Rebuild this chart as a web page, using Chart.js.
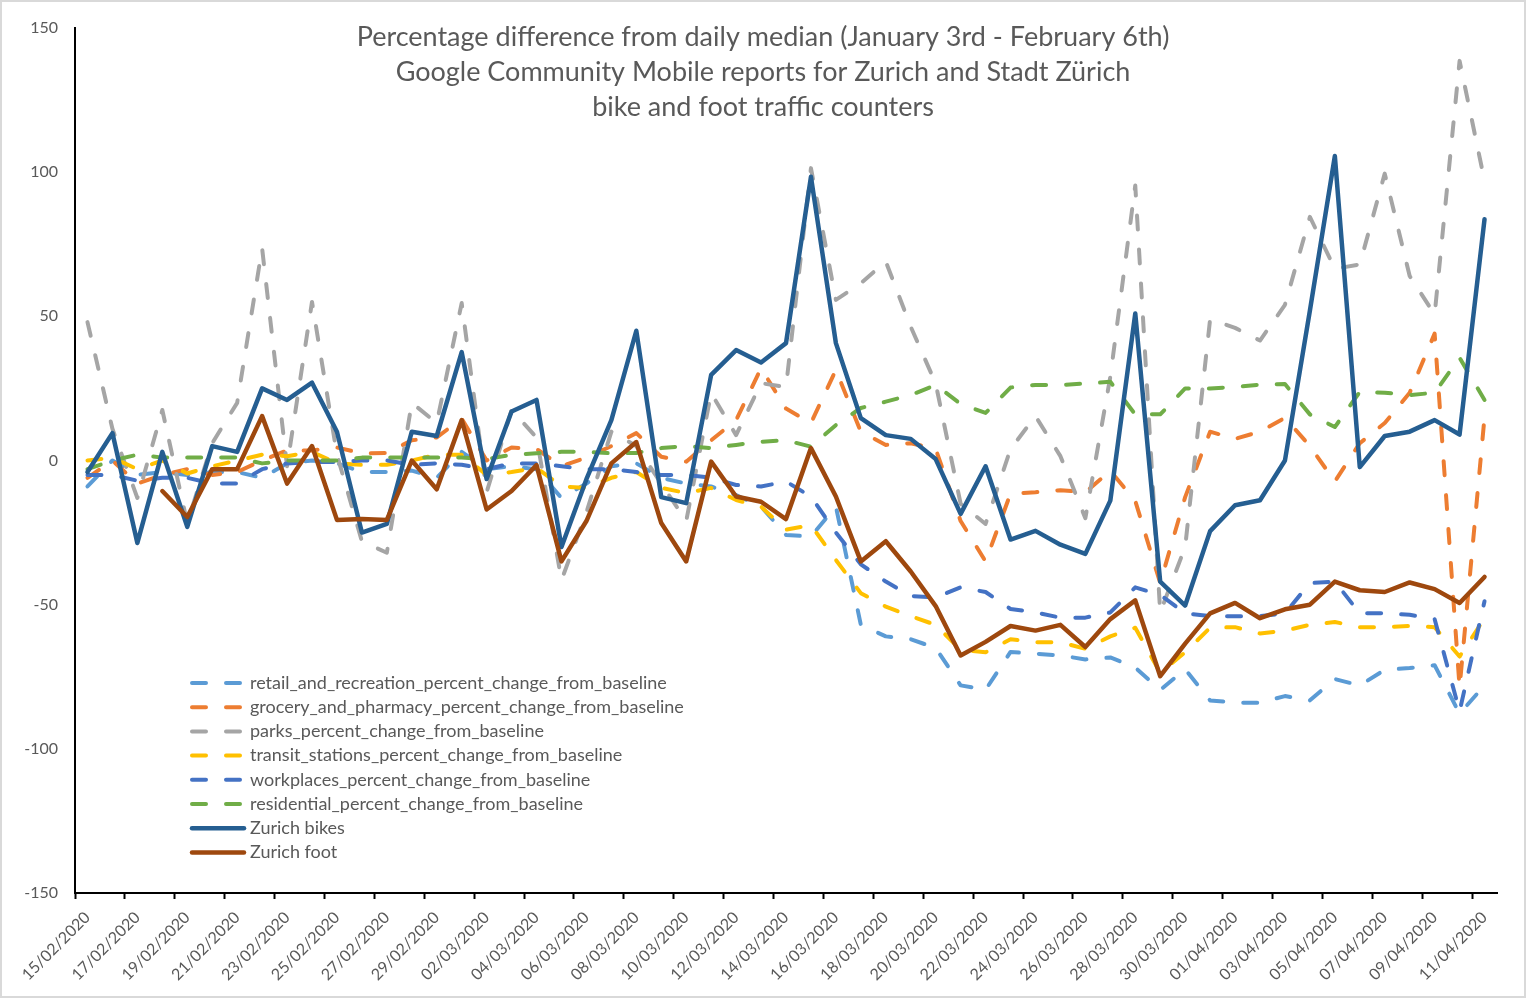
<!DOCTYPE html>
<html lang="en">
<head>
<meta charset="UTF-8">
<title>Percentage difference from daily median</title>
<script src="https://cdn.jsdelivr.net/npm/chart.js"></script>
<style>
  html, body { margin: 0; padding: 0; background: #fff; }
  #wrap { width: 1526px; height: 998px; }
</style>
</head>
<body>
<div id="wrap"><canvas id="chart" width="1526" height="998"></canvas></div>
<script>
// categories (one per day)
const dates = [
  '15/02/2020', '16/02/2020', '17/02/2020', '18/02/2020', '19/02/2020', '20/02/2020', '21/02/2020',
  '22/02/2020', '23/02/2020', '24/02/2020', '25/02/2020', '26/02/2020', '27/02/2020', '28/02/2020', '29/02/2020',
  '01/03/2020', '02/03/2020', '03/03/2020', '04/03/2020', '05/03/2020', '06/03/2020', '07/03/2020', '08/03/2020',
  '09/03/2020', '10/03/2020', '11/03/2020', '12/03/2020', '13/03/2020', '14/03/2020', '15/03/2020', '16/03/2020',
  '17/03/2020', '18/03/2020', '19/03/2020', '20/03/2020', '21/03/2020', '22/03/2020', '23/03/2020', '24/03/2020',
  '25/03/2020', '26/03/2020', '27/03/2020', '28/03/2020', '29/03/2020', '30/03/2020', '31/03/2020',
  '01/04/2020', '02/04/2020', '03/04/2020', '04/04/2020', '05/04/2020', '06/04/2020', '07/04/2020', '08/04/2020',
  '09/04/2020', '10/04/2020', '11/04/2020'
];

// series values
const retail = [-9, 0, -5, -4, -5, -4, -4, -6, -1, 0, -1, -4, -4, -3.5, -6, 3, -3, -2, -3, -13,
  -8, -2, -1, -6, -8, -9, -12, -16, -25.8, -26.4, -16, -57, -61, -62, -65, -78, -79.5, -66.4, -67, -67.6,
  -69, -68.3, -71.8, -79.6, -72.4, -83.2, -84, -84, -81.7, -83.2, -75.8, -78, -72.6, -72, -71, -87.8, -78];
const grocery = [-6, 0, -8, -5, -3, -5, -4, 0, 3.5, 3.5, 4.5, 2.5, 2.6, 7, 8, 14.5, 0, 4.5, 4, -2,
  1, 5, 9.5, 1.3, -0.4, 7, 14, 32, 18, 13, 31.4, 10, 5.4, 6, 4, -21, -35, -11.5, -11, -10.3,
  -11, -3.6, -14, -42.5, -12.7, 10, 7.5, 10, 14.8, 5, -7.3, 6, 13, 23.5, 44, -78.7, 15];
const parks = [48, 11, -13, 17.5, -21.7, 6, 20, 73.6, -2, 55, 2, -28, -32, 20, 13, 54.6, -11, 17.5, 8, -41.5,
  -18, 10, 5, -8, -21, 23.4, 8.8, 26.8, 25.5, 101.4, 55.7, 61.5, 69, 46.4, 26.7, -15, -22, 4, 15.4, 1.5,
  -20, 29, 95.4, -52.7, -30, 49, 46, 41.6, 54, 84.5, 66.5, 68, 99.5, 64, 50.6, 138.6, 97];
const transit = [0, 1, -3, 0, -4.5, -2, 0, 2, 1.5, 3, -1, -1.5, -1.5, 0, 2, 2, -5, -4, -2.5, -9,
  -9.5, -6, -4, -9.5, -11.3, -9.5, -13.7, -16, -24, -22.4, -34.5, -46, -50.7, -54, -57, -65.7, -66.5, -62, -63, -63,
  -65.3, -61, -58, -73.6, -66.5, -58, -57.8, -60, -59, -57, -56, -57.8, -57.8, -57.4, -57.8, -68, -54.7];
const workplaces = [-5, -5, -7, -6, -6, -8, -8, -3, -1, -0.5, -0.5, 0, 0, -1.5, -1, -1.5, -3, -1, -1, -2,
  -3, -3, -4, -5, -5, -6, -8.5, -9, -7.3, -12.5, -25, -36, -42, -47, -47.5, -44, -45.6, -51.5, -52.7, -54.5,
  -54.5, -52.7, -44, -46.6, -53, -54, -54, -54, -53, -42.5, -42, -53, -53, -53.5, -55, -87, -48.8];
const residential = [-3, 0, 2, 1, 1, 1, 1, -1, 0, 0, 0, 1, 1, 1, 1, 1, 0.5, 2, 2.5, 3,
  3, 2.5, 2.6, 4.3, 5, 4.3, 5.4, 6.5, 7, 4.8, 12.3, 18.2, 20.4, 22.7, 26.2, 19.6, 16.5, 25.3, 26.2, 26.2,
  26.7, 27.3, 16, 16, 25, 25, 25.5, 26.3, 26.5, 16, 11.6, 23.8, 23.5, 22.7, 23.5, 35.6, 21];
const bikes = [-4, 9.5, -28.6, 3, -23, 5, 3, 25, 21, 27, 10, -25, -22, 10, 8.5, 37.6, -6.4, 17, 21, -30,
  -6.5, 14, 45, -12.7, -14.8, 29.7, 38.3, 34, 40.7, 98.4, 40.7, 14.7, 8.8, 7.5, 0.5, -18.5, -2, -27.4, -24.4, -29.2,
  -32.4, -13.9, 51, -42, -50.3, -24.5, -15.5, -13.8, 0, 52, 105.6, -2.3, 8.5, 10, 14, 9, 83.7];
const foot = [null, null, null, -10.6, -19.6, -3, -3, 15.4, -8, 5, -20.6, -20.3, -20.6, 0, -10, 14, -17, -10.6, -1.6, -35,
  -21, -1, 6.4, -21.7, -35, -0.4, -12.5, -14.3, -20.3, 4.3, -12.5, -35, -28, -38.5, -50.5, -67.6, -62.9, -57.4, -59, -57,
  -64.7, -55, -48.5, -74.8, -63.5, -53, -49.4, -54.7, -51.6, -50, -42, -45, -45.6, -42.3, -44.6, -49.4, -40.4];

const seriesNames = [
  'retail_and_recreation_percent_change_from_baseline',
  'grocery_and_pharmacy_percent_change_from_baseline',
  'parks_percent_change_from_baseline',
  'transit_stations_percent_change_from_baseline',
  'workplaces_percent_change_from_baseline',
  'residential_percent_change_from_baseline',
  'Zurich bikes',
  'Zurich foot'
];
const seriesData = [retail, grocery, parks, transit, workplaces, residential, bikes, foot];
const seriesColors = ['#5B9BD5', '#ED7D31', '#A5A5A5', '#FFC000', '#4472C4', '#70AD47', '#255E91', '#9E480E'];

const titleLines = [
  'Percentage difference from daily median (January 3rd - February 6th)',
  'Google Community Mobile reports for Zurich and Stadt Zürich',
  'bike and foot traffic counters'
];

const FONT = 'Lato, "Open Sans", sans-serif';
const TEXT = '#595959';

// title, legend and chart frame are drawn on top, Excel style
const frameAndText = {
  id: 'frameAndText',
  afterDraw(chart) {
    const ctx = chart.ctx;
    ctx.save();
    ctx.strokeStyle = '#d9d9d9';
    ctx.lineWidth = 2;
    ctx.strokeRect(1, 1, chart.width - 2, chart.height - 2);

    ctx.fillStyle = TEXT;
    ctx.font = '27px ' + FONT;
    ctx.textAlign = 'center';
    ctx.textBaseline = 'middle';
    titleLines.forEach((t, i) => ctx.fillText(t, 763, 37 + i * 35));

    ctx.font = '18px ' + FONT;
    ctx.textAlign = 'left';
    chart.data.datasets.forEach((ds, i) => {
      const y = 683 + i * 24.2;
      ctx.beginPath();
      ctx.strokeStyle = ds.borderColor;
      ctx.lineWidth = ds.borderWidth;
      ctx.lineCap = 'round';
      ctx.setLineDash(ds.borderDash);
      ctx.moveTo(192, y);
      ctx.lineTo(244, y);
      ctx.stroke();
      ctx.setLineDash([]);
      ctx.fillStyle = TEXT;
      ctx.fillText(ds.label, 250, y);
    });
    ctx.restore();
  }
};

new Chart(document.getElementById('chart'), {
  type: 'line',
  data: {
    labels: dates,
    datasets: seriesNames.map((name, i) => ({
      label: name,
      data: seriesData[i],
      borderColor: seriesColors[i],
      backgroundColor: seriesColors[i],
      borderWidth: i < 6 ? 4 : 4.5,
      borderDash: i < 6 ? [14, 20] : [],
      borderCapStyle: 'round',
      borderJoinStyle: 'round',
      pointRadius: 0,
      tension: 0,
      fill: false,
      order: 8 - i
    }))
  },
  options: {
    responsive: false,
    animation: false,
    layout: { padding: { top: 28, right: 29, left: 0, bottom: 0 } },
    plugins: {
      legend: { display: false },
      title: { display: false },
      tooltip: { enabled: false }
    },
    scales: {
      x: {
        offset: true,
        grid: {
          display: true,
          offset: true,
          drawOnChartArea: false,
          drawTicks: true,
          tickLength: 6,
          tickWidth: 2,
          tickColor: c => (c.index % 2 === 0 ? '#000' : 'rgba(0,0,0,0)')
        },
        border: { display: true, color: '#000', width: 2 },
        ticks: {
          autoSkip: false,
          maxRotation: 45,
          minRotation: 45,
          padding: 9,
          color: TEXT,
          font: { family: FONT, size: 16 },
          callback: (v, i) => (i % 2 === 0 ? dates[i] : '')
        },
        afterFit: s => { s.height = 105; }
      },
      y: {
        min: -150,
        max: 150,
        grid: { display: false, drawTicks: false },
        border: { display: true, color: '#000', width: 2 },
        ticks: { stepSize: 50, padding: 17, color: TEXT, font: { family: FONT, size: 16 } },
        afterFit: s => { s.width = 75; }
      }
    }
  },
  plugins: [frameAndText]
});
</script>
</body>
</html>
